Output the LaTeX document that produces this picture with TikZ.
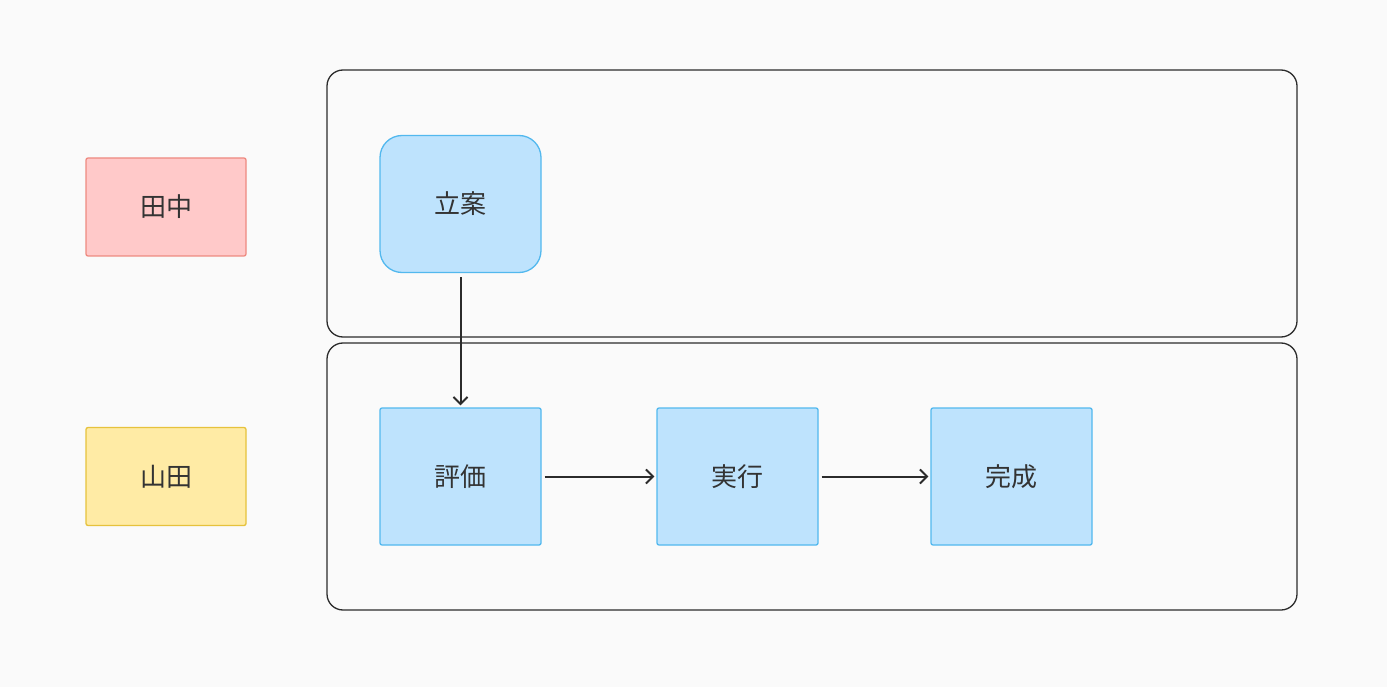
\documentclass[tikz,border=0pt]{standalone}
\usepackage{fontspec}
\newfontfamily\cjk{Noto Sans CJK JP}
\usetikzlibrary{arrows.meta}
\definecolor{bgc}{HTML}{FAFAFA}
\definecolor{lanec}{HTML}{2B2B2B}
\definecolor{redf}{HTML}{FFC9C9}
\definecolor{redd}{HTML}{EE8A80}
\definecolor{yelf}{HTML}{FFEBA5}
\definecolor{yeld}{HTML}{E6C23C}
\definecolor{bluef}{HTML}{BEE3FD}
\definecolor{blued}{HTML}{52B8EE}
\definecolor{txt}{HTML}{333333}
\tikzset{
  lane/.style={draw=lanec, line width=1.3pt, rounded corners=16pt},
  actor/.style={rectangle, rounded corners=2pt, line width=1.3pt, minimum width=160pt, minimum height=98pt, font=\cjk\fontsize{26}{30}\selectfont, text=txt},
  task/.style={rectangle, fill=bluef, draw=blued, line width=1.3pt, minimum width=161pt, minimum height=137pt, font=\cjk\fontsize{26}{30}\selectfont, text=txt, rounded corners=2pt},
  flow/.style={draw=lanec, line width=2pt, -{Straight Barb[length=7pt,width=14pt,line width=2pt]}}
}
\begin{document}
\begin{tikzpicture}[x=1pt,y=-1pt]
\fill[bgc] (0,0) rectangle (1387,687);
\useasboundingbox (0,0) rectangle (1387,687);
\draw[lane] (327,70) rectangle (1297,337);
\draw[lane] (327,343) rectangle (1297,610);
\node[actor, fill=redf, draw=redd] (tanaka) at (166,207) {田中};
\node[actor, fill=yelf, draw=yeld] (yamada) at (166,476.5) {山田};
\node[task, rounded corners=22pt] (rian) at (460.5,204) {立案};
\node[task] (hyoka) at (460.5,476.5) {評価};
\node[task] (jikko) at (737.5,476.5) {実行};
\node[task] (kansei) at (1011.5,476.5) {完成};
\draw[flow, shorten <=4pt, shorten >=2pt] (rian) -- (hyoka);
\draw[flow, shorten <=3pt, shorten >=2pt] (hyoka) -- (jikko);
\draw[flow, shorten <=3pt, shorten >=2pt] (jikko) -- (kansei);
\end{tikzpicture}
\end{document}
